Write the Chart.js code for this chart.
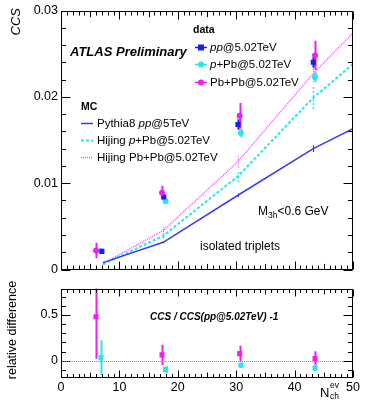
<!DOCTYPE html>
<html><head><meta charset="utf-8">
<script src="https://cdn.jsdelivr.net/npm/chart.js@4/dist/chart.umd.min.js"></script>
<style>
body{margin:0;background:#fff;width:367px;height:400px;overflow:hidden;position:relative}
canvas{position:absolute;left:0}
</style></head><body>
<canvas id="top" width="367" height="280" style="top:0;width:367px;height:280px"></canvas>
<canvas id="bot" width="367" height="122" style="top:278px;width:367px;height:122px"></canvas>
<script>
// ---- data (top panel) ----
const ppX = [7.0, 17.6, 30.3, 43.2];
const ppY = [0.0021, 0.0084, 0.0168, 0.0240];
const ppErr = [0.0002, 0.0003, 0.0006, 0.0006];
const pPbX = [6.85, 17.9, 30.8, 43.5];
const pPbY = [0.0021, 0.0079, 0.0158, 0.0223];
const pPbErr = [0.0002, 0.0003, 0.0005, 0.0006];
const PbPbX = [6.0, 17.3, 30.6, 43.5];
const PbPbY = [0.0022, 0.0089, 0.0178, 0.0248];
const PbPbErr = [0.0009, 0.0008, 0.0015, 0.0017];
// MC
const mcX = [7.2, 17.5, 30.3, 43.2, 50];
const pythiaY = [0.0008, 0.00315, 0.0086, 0.0140, 0.0163];
const pythiaErr = [0.0001, 0.0001, 0.0002, 0.0004, 0];
const hijPPbY = [0.0006, 0.0039, 0.0108, 0.0199, 0.0238];
const hijPPbErr = [0.0001, 0.0003, 0.0007, 0.0013, 0];
const hijPbPbY = [0.0007, 0.0045, 0.0125, 0.0227, 0.0274];
const hijPbPbErr = [0.0001, 0.0004, 0.0007, 0.0010, 0];
// ---- ratio panel ----
const rPbPbX = [6.0, 17.3, 30.6, 43.5];
const rPbPbY = [0.48, 0.063, 0.077, 0.023];
const rPbPbErr = [0.46, 0.11, 0.085, 0.08];
const rPPbX = [6.85, 17.9, 30.8, 43.5];
const rPPbY = [0.033, -0.097, -0.05, -0.08];
const rPPbErr = [0.19, 0.04, 0.03, 0.04];
// ticks
const topYTicks = [0, 0.01, 0.02, 0.03];
const botYTicks = [0, 0.5];
const xTicks = [0, 10, 20, 30, 40, 50];

const FAM = '"Liberation Sans", Arial, Helvetica, sans-serif';
const BLUE = '#1c1cf0', CYAN = '#2ae6e6', MAG = '#f01ef0', PYTH = '#3a3af5', PINK = '#ff4cff';

const pts = (xs, ys) => xs.map((x, i) => ({x, y: ys[i]}));

const errPlugin = {
  id: 'err',
  beforeDatasetsDraw(chart) {
    const {ctx, chartArea: a, scales: {x, y}} = chart;
    ctx.save();
    ctx.beginPath(); ctx.rect(a.left, a.top, a.right - a.left, a.bottom - a.top); ctx.clip();
    chart.data.datasets.forEach(ds => {
      if (!ds.errors) return;
      ctx.strokeStyle = ds.errColor || ds.borderColor;
      ctx.lineWidth = ds.errWidth || 2;
      ctx.setLineDash(ds.errDash || []);
      ds.data.forEach((p, i) => {
        const e = ds.errors[i]; if (!e) return;
        const px = Math.round(x.getPixelForValue(p.x)) + 0.5;
        ctx.beginPath();
        ctx.moveTo(px, y.getPixelForValue(p.y - e));
        ctx.lineTo(px, y.getPixelForValue(p.y + e));
        ctx.stroke();
      });
    });
    ctx.restore();
  }
};

function framePlugin(cfg) {
  return {
    id: 'frame',
    afterDraw(chart) {
      const {ctx, chartArea: a, scales: {x, y}} = chart;
      ctx.save();
      ctx.strokeStyle = '#000'; ctx.lineWidth = 1;
      const L = Math.round(a.left) + 0.5, R = Math.round(a.right) - 0.5;
      const T = Math.round(a.top) + 0.5, B = Math.round(a.bottom) - 0.5;
      ctx.strokeRect(L, T, R - L, B - T);
      ctx.beginPath();
      const n = Math.round((y.max - y.min) / cfg.yMinor) + 2;
      const start = Math.ceil(y.min / cfg.yMinor - 1e-6) * cfg.yMinor;
      for (let i = 0; i < n; i++) {
        const v = start + i * cfg.yMinor;
        if (v > y.max + 1e-9) break;
        const isMaj = Math.abs(v / cfg.yMajor - Math.round(v / cfg.yMajor)) < 1e-6;
        const len = isMaj ? cfg.yLen : cfg.yLen / 2;
        const py = Math.round(y.getPixelForValue(v)) + 0.5;
        ctx.moveTo(L, py); ctx.lineTo(L + len, py);
        ctx.moveTo(R, py); ctx.lineTo(R - len, py);
      }
      for (let v = 0; v <= 50; v++) {
        const len = v % 10 === 0 ? cfg.xLen : (v % 5 === 0 ? cfg.xLen * 0.7 : cfg.xLen / 2);
        const px = Math.round(x.getPixelForValue(v)) + 0.5;
        ctx.moveTo(px, B); ctx.lineTo(px, B - len);
        ctx.moveTo(px, T); ctx.lineTo(px, T + len);
      }
      ctx.stroke();
      ctx.restore();
      if (cfg.text) cfg.text(ctx, chart);
    }
  };
}

function rich(ctx, parts, x, y, size) {
  ctx.textBaseline = 'middle'; ctx.textAlign = 'left';
  parts.forEach(([t, st]) => {
    ctx.font = (st || '') + ' ' + size + 'px ' + FAM;
    ctx.fillText(t, x, y);
    x += ctx.measureText(t).width;
  });
}

function topText(ctx, chart) {
  ctx.save();
  ctx.fillStyle = '#000';
  ctx.save();
  ctx.translate(16, 8); ctx.rotate(-Math.PI / 2);
  ctx.font = 'italic 13px ' + FAM; ctx.textAlign = 'right'; ctx.textBaseline = 'middle';
  ctx.fillText('CCS', 0, 0);
  ctx.restore();
  rich(ctx, [['ATLAS Preliminary', 'italic bold']], 70, 52, 13);
  rich(ctx, [['data', 'bold']], 193, 30, 10.5);
  const leg = [
    [BLUE, 'rect', [['pp', 'italic'], ['@5.02TeV', '']], 47],
    [CYAN, 'circle', [['p', 'italic'], ['+Pb@5.02TeV', '']], 64],
    [MAG, 'circle', [['Pb+Pb@5.02TeV', '']], 82]
  ];
  leg.forEach(([c, shape, parts, yy]) => {
    ctx.strokeStyle = c; ctx.fillStyle = c; ctx.lineWidth = 1.5;
    ctx.beginPath(); ctx.moveTo(195, yy + 0.5); ctx.lineTo(207, yy + 0.5); ctx.stroke();
    if (shape === 'rect') ctx.fillRect(198, yy - 2.5, 6, 6);
    else { ctx.beginPath(); ctx.arc(201, yy + 0.5, 3, 0, 2 * Math.PI); ctx.fill(); }
    ctx.fillStyle = '#000';
    rich(ctx, parts, 210, yy + 0.5, 11.5);
  });
  rich(ctx, [['MC', 'bold']], 81, 107, 10.5);
  const mleg = [
    [PYTH, [], 1.5, [['Pythia8 ', ''], ['pp', 'italic'], ['@5TeV', '']], 123],
    [CYAN, [3, 2], 2, [['Hijing ', ''], ['p', 'italic'], ['+Pb@5.02TeV', '']], 140],
    [PINK, [1, 1], 1.5, [['Hijing Pb+Pb@5.02TeV', '']], 157]
  ];
  mleg.forEach(([c, dash, w, parts, yy]) => {
    ctx.strokeStyle = c; ctx.lineWidth = w; ctx.setLineDash(dash);
    ctx.beginPath(); ctx.moveTo(81, yy + 0.5); ctx.lineTo(93, yy + 0.5); ctx.stroke();
    ctx.setLineDash([]);
    ctx.fillStyle = '#000';
    rich(ctx, parts, 97, yy + 0.5, 11.5);
  });
  ctx.fillStyle = '#000';
  ctx.font = '12px ' + FAM; ctx.textBaseline = 'middle'; ctx.textAlign = 'left';
  let xx = 258;
  ctx.fillText('M', xx, 212); xx += ctx.measureText('M').width;
  ctx.font = '8.5px ' + FAM; ctx.fillText('3h', xx, 216); xx += ctx.measureText('3h').width;
  ctx.font = '12px ' + FAM; ctx.fillText('<0.6 GeV', xx, 212);
  ctx.fillText('isolated triplets', 200, 247);
  ctx.restore();
}

function botText(ctx, chart) {
  ctx.save();
  ctx.fillStyle = '#000';
  const {scales: {x, y}} = chart;
  ctx.strokeStyle = '#8a8a8a'; ctx.lineWidth = 1; ctx.setLineDash([1, 1]);
  const py = Math.round(y.getPixelForValue(0)) + 0.5;
  ctx.beginPath(); ctx.moveTo(x.getPixelForValue(0.2), py); ctx.lineTo(x.getPixelForValue(48.3), py); ctx.stroke();
  ctx.setLineDash([]);
  rich(ctx, [['CCS / CCS(pp@5.02TeV) -1', 'italic bold']], 150, 39, 10);
  ctx.save();
  ctx.translate(13, 52); ctx.rotate(-Math.PI / 2);
  ctx.font = '12.5px ' + FAM; ctx.textAlign = 'center'; ctx.textBaseline = 'middle';
  ctx.fillText('relative difference', 0, 0);
  ctx.restore();
  ctx.font = '13px ' + FAM; ctx.textBaseline = 'alphabetic'; ctx.textAlign = 'left';
  ctx.fillText('N', 320, 119);
  ctx.font = '8.5px ' + FAM;
  ctx.fillText('ev', 330, 110);
  ctx.fillText('ch', 330, 121);
  ctx.restore();
}

const common = {
  responsive: false, animation: false, devicePixelRatio: 1,
  plugins: {legend: {display: false}, tooltip: {enabled: false}}
};
const yTickFont = {size: 12.5, family: FAM};

new Chart(document.getElementById('top'), {
  type: 'scatter',
  data: {datasets: [
    {data: pts(mcX, pythiaY), errors: pythiaErr, showLine: true, borderColor: PYTH, borderWidth: 1.5, pointRadius: 0, errWidth: 1.2},
    {data: pts(mcX, hijPPbY), errors: hijPPbErr, showLine: true, borderColor: CYAN, borderWidth: 2, borderDash: [3, 2], pointRadius: 0, errWidth: 1.5, errDash: [2, 2]},
    {data: pts(mcX, hijPbPbY), errors: hijPbPbErr, showLine: true, borderColor: PINK, borderWidth: 1.5, borderDash: [1, 1], pointRadius: 0, errWidth: 1.3, errDash: [1, 1]},
    {data: pts(PbPbX, PbPbY), errors: PbPbErr, borderColor: MAG, backgroundColor: MAG, pointStyle: 'circle', pointRadius: 3, pointBorderWidth: 0},
    {data: pts(ppX, ppY), errors: ppErr, borderColor: BLUE, backgroundColor: BLUE, pointStyle: 'rect', pointRadius: 3.6, pointBorderWidth: 0},
    {data: pts(pPbX, pPbY), errors: pPbErr, borderColor: CYAN, backgroundColor: CYAN, pointStyle: 'circle', pointRadius: 3, pointBorderWidth: 0}
  ]},
  options: {...common,
    layout: {padding: {left: 0, right: 14, top: 7, bottom: 8}},
    scales: {
      x: {type: 'linear', min: 0, max: 50, display: false},
      y: {min: 0, max: 0.03,
        afterBuildTicks: s => { s.ticks = topYTicks.map(v => ({value: v})); },
        afterFit: s => { s.width = 61; },
        ticks: {callback: v => v === 0 ? '0' : v.toFixed(2), font: yTickFont, color: '#000', padding: 3},
        grid: {display: false, drawTicks: false}, border: {display: false}}
    }
  },
  plugins: [errPlugin, framePlugin({yMinor: 0.002, yMajor: 0.01, yLen: 9, xLen: 8, text: topText})]
});

new Chart(document.getElementById('bot'), {
  type: 'scatter',
  data: {datasets: [
    {data: pts(rPbPbX, rPbPbY), errors: rPbPbErr, borderColor: MAG, backgroundColor: MAG, pointStyle: 'rect', pointRadius: 3.6, pointBorderWidth: 0},
    {data: pts(rPPbX, rPPbY), errors: rPPbErr, borderColor: CYAN, backgroundColor: CYAN, pointStyle: 'rect', pointRadius: 3.6, pointBorderWidth: 0}
  ]},
  options: {...common,
    layout: {padding: {left: 0, right: 14, top: 2, bottom: 0}},
    scales: {
      x: {type: 'linear', min: 0, max: 50,
        afterBuildTicks: s => { s.ticks = xTicks.map(v => ({value: v})); },
        afterFit: s => { s.height = 22; },
        ticks: {font: yTickFont, color: '#000', padding: 2, maxRotation: 0},
        grid: {display: false, drawTicks: false}, border: {display: false}},
      y: {min: -0.19, max: 0.79,
        afterBuildTicks: s => { s.ticks = botYTicks.map(v => ({value: v})); },
        afterFit: s => { s.width = 61; },
        ticks: {callback: v => String(v), font: yTickFont, color: '#000', padding: 3},
        grid: {display: false, drawTicks: false}, border: {display: false}}
    }
  },
  plugins: [errPlugin, framePlugin({yMinor: 0.1, yMajor: 0.5, yLen: 9, xLen: 7, text: botText})]
});
</script>
</body></html>
